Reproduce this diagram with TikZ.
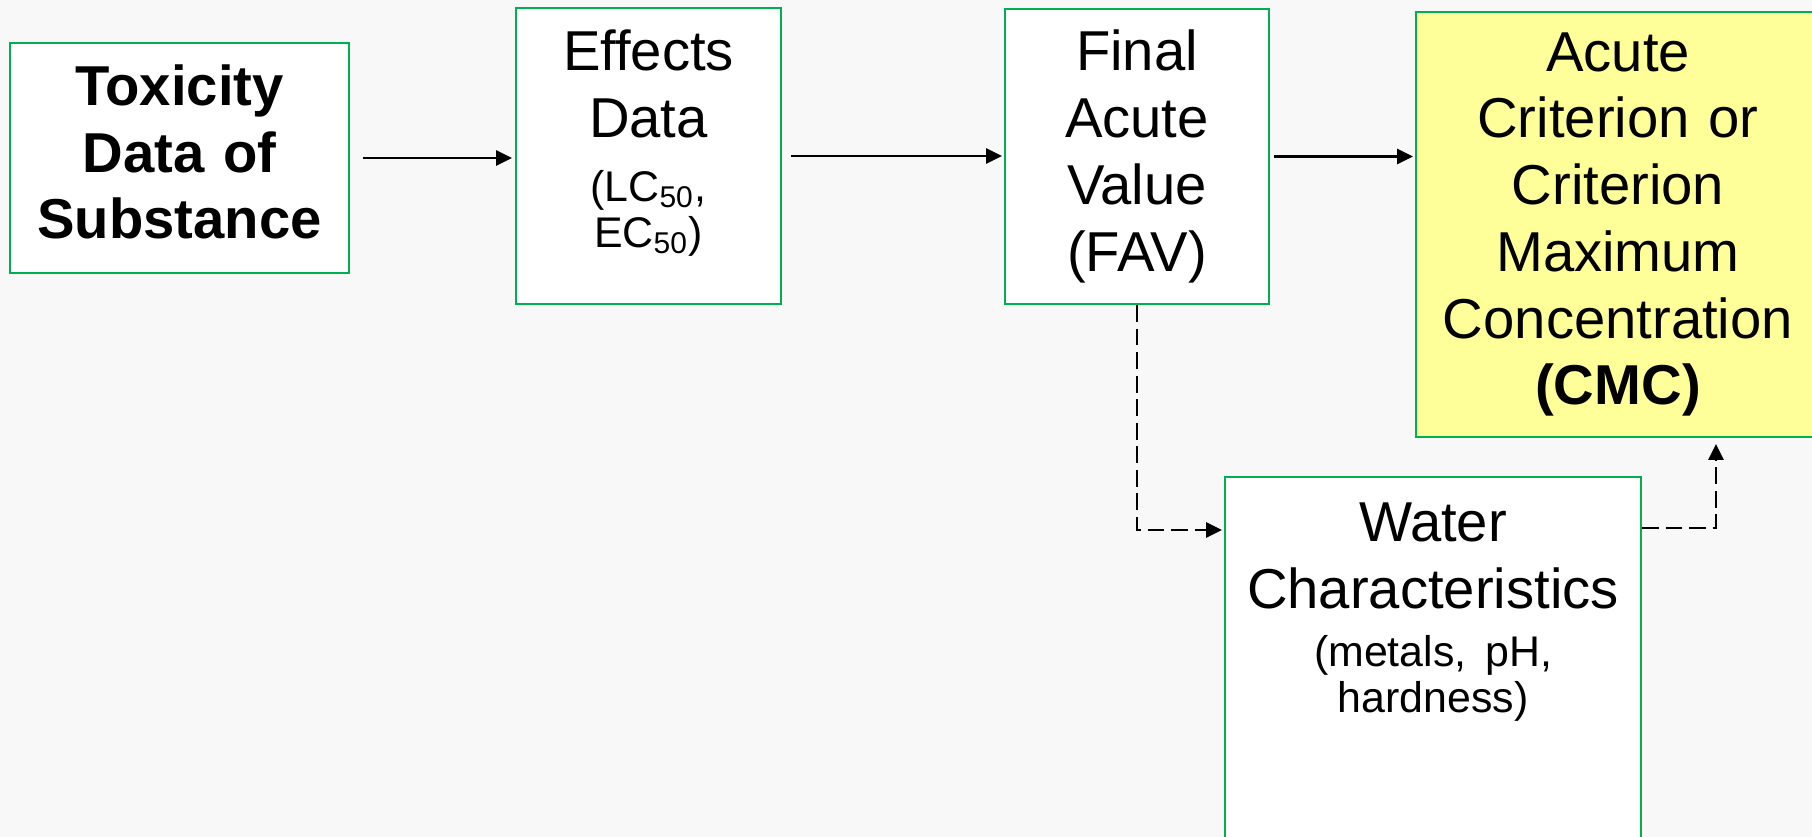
\documentclass[tikz,border=0pt]{standalone}
\usepackage{fontspec}
\setmainfont{Liberation Sans}
\usetikzlibrary{positioning,arrows.meta}
\definecolor{boxgreen}{RGB}{0,176,80}
\definecolor{cmcyellow}{RGB}{255,255,153}
\definecolor{slide}{RGB}{248,248,248}
\newcommand{\smalltxt}{\fontsize{12.2pt}{13.1pt}\selectfont}

\begin{document}
\begin{tikzpicture}[
  stage/.style={rectangle, draw=boxgreen, line width=0.6pt, fill=white, align=center, inner xsep=0pt, font=\fontsize{16pt}{19pt}\selectfont},
  goal/.style={stage, fill=cmcyellow},
  flow/.style={line width=0.6pt, -{Triangle[length=4.5pt,width=4.3pt]}},
  modifier/.style={flow, dash pattern=on 4.8pt off 1.9pt}
]
  % Slide area
  \useasboundingbox (0,0) rectangle (18.12,8.37);
  \clip (0,0) rectangle (18.12,8.37);
  \fill[slide] (0,0) rectangle (18.12,8.37);

  % Boxes of the derivation, left to right (text depth lifts the text a bit)
  \node[stage, text width=3.39cm, minimum height=2.30cm, text depth=41.5pt] (tox) at (1.795,6.79) {\bfseries Toxicity\\Data of\\Substance};
  \node[stage, text width=2.65cm, minimum height=2.96cm, text depth=60pt] (eff) at (6.485,6.81) {Effects\\Data\par\vspace{5pt}{\smalltxt (LC\textsubscript{50},\\EC\textsubscript{50})\par}};
  \node[stage, text width=2.64cm, minimum height=2.95cm] (fav) at (11.37,6.805) {Final\\Acute\\Value\\(FAV)};
  \node[goal, text width=4.04cm, minimum height=4.25cm] (cmc) at (16.18,6.125) {Acute\\Criterion or\\Criterion\\Maximum\\Concentration\\\textbf{(CMC)}};

  % Water characteristics (runs off the bottom of the slide)
  \node[stage, text width=4.16cm, anchor=north, inner ysep=0.26cm, text depth=3.3cm] (wat) at (14.33,3.61) {Water\\Characteristics\par\vspace{3.4pt}{\smalltxt (metals, pH,\\hardness)\par}};

  % Main flow
  \draw[flow, shorten <=0.13cm, shorten >=0.03cm] (tox.east) -- (tox.east -| eff.west);
  \draw[flow, shorten <=0.09cm, shorten >=0.02cm] (eff.east) -- (eff.east -| fav.west);
  \draw[flow, shorten <=0.04cm, shorten >=0.02cm] (fav.east) -- (fav.east -| cmc.west);

  % Adjustment for water characteristics
  \draw[modifier, shorten >=0.02cm] (fav.south) |- ([yshift=-0.54cm]wat.north west);
  \draw[modifier, shorten >=0.06cm] ([yshift=-0.52cm]wat.north east) -| ([xshift=0.98cm]cmc.south);
\end{tikzpicture}
\end{document}
